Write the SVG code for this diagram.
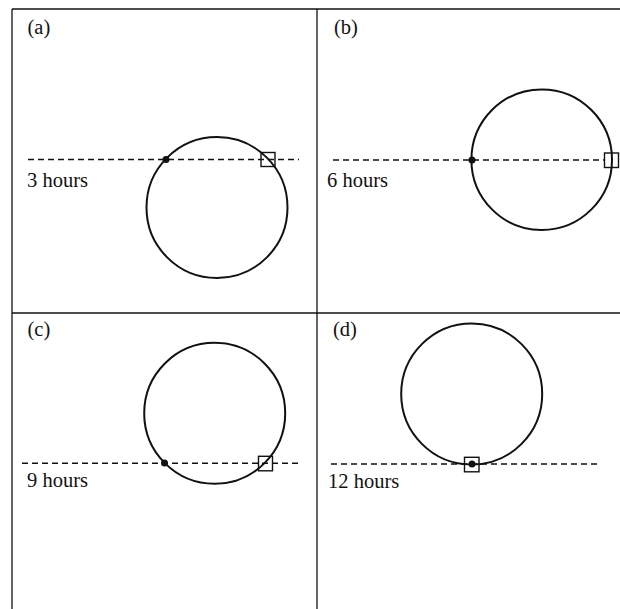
<svg xmlns="http://www.w3.org/2000/svg" width="620" height="609" viewBox="0 0 620 609">
<style>
.frame{stroke:#111;stroke-width:1.3;fill:none}
.orbit{stroke:#111;stroke-width:2;fill:none}
.dash{stroke:#111;stroke-width:1.6;stroke-dasharray:6 4;fill:none}
.sq{stroke:#111;stroke-width:1.4;fill:none}
.dot{fill:#111}
text{font-family:"Liberation Serif","Times New Roman",serif;font-size:20.5px;fill:#111}
</style>
<rect width="620" height="609" fill="#fff"/>
<g id="frame">
<line class="frame" x1="12" y1="9" x2="620" y2="9"/>
<line class="frame" x1="12" y1="9" x2="12" y2="609"/>
<line class="frame" x1="317" y1="9" x2="317" y2="609"/>
<line class="frame" x1="12" y1="313" x2="620" y2="313"/>
</g>
<g id="panel-a">
<text x="27.5" y="34">(a)</text>
<line class="dash" x1="28" y1="159.5" x2="299" y2="159.5"/>
<circle class="orbit" cx="217" cy="207.5" r="70.5"/>
<circle class="dot" cx="166" cy="159.5" r="3.5"/>
<rect class="sq" x="261" y="152.5" width="14" height="14"/>
<text x="27" y="187">3 hours</text>
</g>
<g id="panel-b">
<text x="334" y="34">(b)</text>
<line class="dash" x1="333" y1="160" x2="604" y2="160"/>
<circle class="orbit" cx="541.7" cy="159.7" r="70.3"/>
<circle class="dot" cx="472" cy="160" r="3.5"/>
<rect class="sq" x="604.5" y="153" width="14" height="14.5"/>
<text x="327" y="187">6 hours</text>
</g>
<g id="panel-c">
<text x="27.5" y="336">(c)</text>
<line class="dash" x1="22" y1="463.3" x2="302" y2="463.3"/>
<circle class="orbit" cx="214.7" cy="413.3" r="70.5"/>
<circle class="dot" cx="164.5" cy="463" r="3.5"/>
<rect class="sq" x="258.5" y="456.3" width="14" height="14.5"/>
<text x="27" y="487">9 hours</text>
</g>
<g id="panel-d">
<text x="333" y="336">(d)</text>
<line class="dash" x1="331" y1="464" x2="601" y2="464"/>
<circle class="orbit" cx="471.7" cy="394" r="70.5"/>
<rect class="sq" x="464.5" y="457.3" width="14.5" height="14.5"/>
<circle class="dot" cx="472" cy="464" r="3.5"/>
<text x="328" y="488">12 hours</text>
</g>
</svg>
